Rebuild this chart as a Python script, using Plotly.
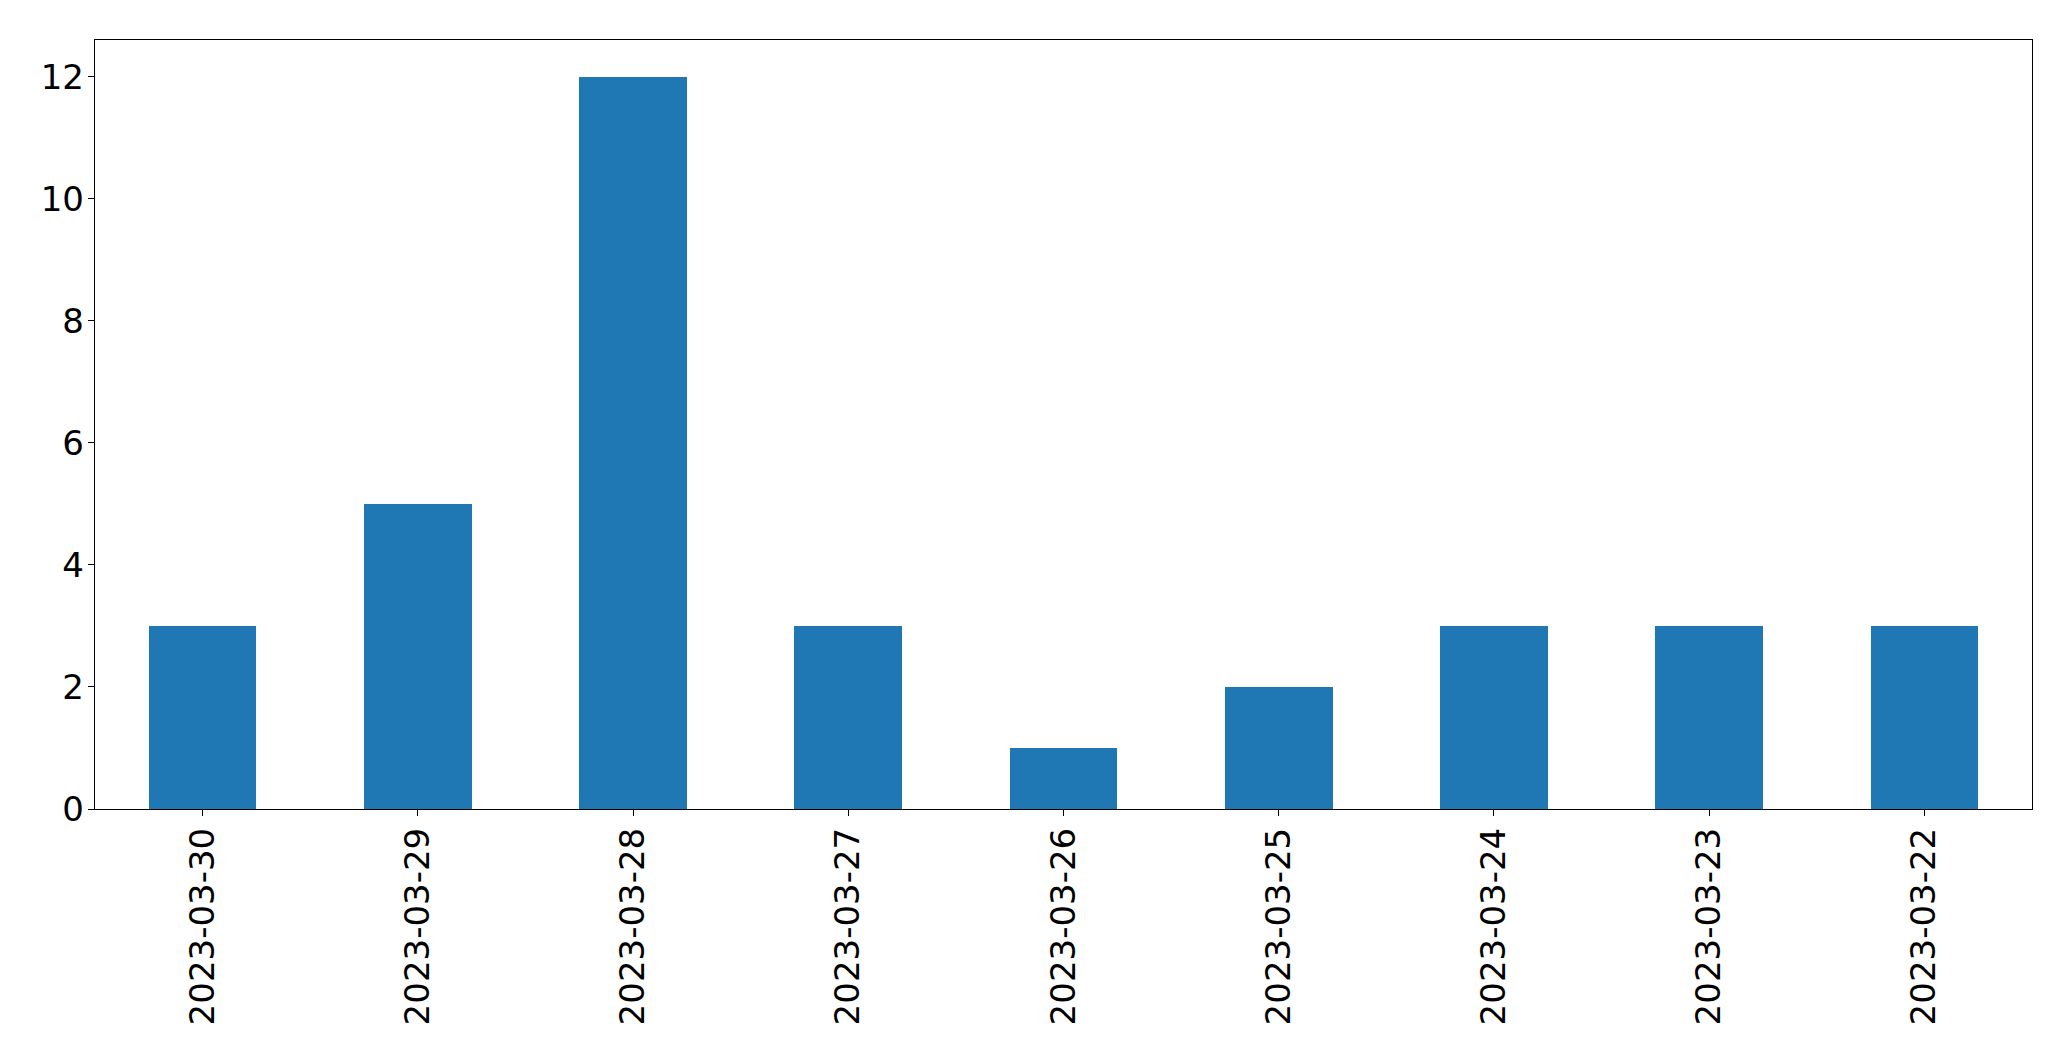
import plotly.graph_objects as go

dates = ["2023-03-30", "2023-03-29", "2023-03-28", "2023-03-27", "2023-03-26",
         "2023-03-25", "2023-03-24", "2023-03-23", "2023-03-22"]
counts = [3, 5, 12, 3, 1, 2, 3, 3, 3]
y_ticks = [0, 2, 4, 6, 8, 10, 12]

fig = go.Figure()
fig.add_trace(go.Bar(x=list(range(len(dates))), y=counts, width=0.5,
                     marker=dict(color="#1f77b4", line=dict(width=0))))

font = dict(family="DejaVu Sans", size=34, color="black")
fig.update_layout(
    width=2063, height=1053,
    margin=dict(l=86.5, r=39, t=31.5, b=252, pad=0),
    plot_bgcolor="white", paper_bgcolor="white",
    showlegend=False, font=font,
    bargap=0,
)
fig.update_xaxes(
    range=[-0.5, len(dates) - 0.5],
    tickmode="array", tickvals=list(range(len(dates))), ticktext=dates,
    tickangle=-90, ticks="outside", ticklen=6, tickwidth=1.4, tickcolor="black",
    showline=True, linecolor="black", linewidth=1.4, mirror=True,
    showgrid=False, zeroline=False, tickfont=font, ticklabelstandoff=-2,
)
fig.update_yaxes(
    range=[0, 12.6],
    tickmode="array", tickvals=y_ticks, ticktext=[str(v) for v in y_ticks],
    ticks="outside", ticklen=6, tickwidth=1.4, tickcolor="black",
    showline=True, linecolor="black", linewidth=1.4, mirror=True,
    showgrid=False, zeroline=False, tickfont=font, ticklabelstandoff=-3,
)
fig.write_html("out.html")
